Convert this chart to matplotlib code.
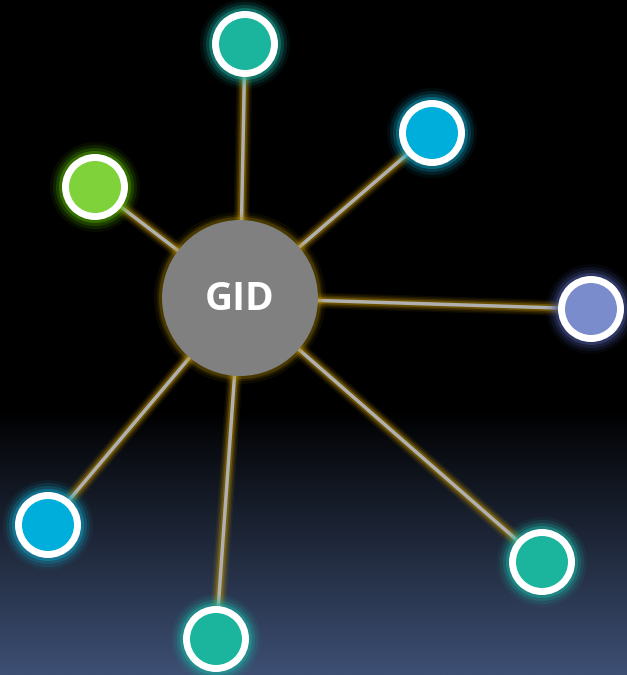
import numpy as np
import matplotlib
matplotlib.use("Agg")
import matplotlib.pyplot as plt
from matplotlib.patches import Circle

# ---- data ----
center_label = "GID"
center_pos = (240, 298)
center_radius = 78
node_x = [245, 432, 95, 591, 48, 542, 216]
node_y = [44, 133, 187, 309, 525, 562, 639]
node_colors = ["#1bb59e", "#00aedc", "#80d23a", "#7a8ccc", "#00aedc", "#1bb59e", "#1bb59e"]
glow_colors = ["#1bb5a6", "#0fa6c8", "#58b400", "#4a5a9e", "#0fa6c8", "#1bb5a6", "#1bb5a6"]
node_radius = 33

W, H = 627, 675
fig = plt.figure(figsize=(W / 100, H / 100), dpi=100)
ax = fig.add_axes([0, 0, 1, 1])
ax.set_xlim(0, W)
ax.set_ylim(H, 0)
ax.axis("off")

# background gradient
ys = np.linspace(0, H, 400)
t = np.clip((ys - 410) / (H - 410), 0, 1)
top = np.array([0, 0, 0])
bot = np.array([0x3d, 0x4f, 0x73]) / 255
cols = top[None, :] * (1 - t[:, None]) + bot[None, :] * t[:, None]
img = np.repeat(cols[:, None, :], 2, axis=1)
ax.imshow(img, extent=[0, W, H, 0], aspect="auto", zorder=0, interpolation="bilinear")

cx, cy = center_pos
# edges with golden glow
for x, y in zip(node_x, node_y):
    for w, a in [(16, 0.08), (13, 0.12), (10, 0.2), (7, 0.35)]:
        ax.plot([cx, x], [cy, y], color="#b88c00", lw=w * 0.72, alpha=a,
                solid_capstyle="round", zorder=1)
    ax.plot([cx, x], [cy, y], color="#b0b0b0", lw=3.5 * 0.72, zorder=2,
            solid_capstyle="butt")

# center glow + circle
for dr, a in [(8, 0.08), (5, 0.15), (3, 0.25)]:
    ax.add_patch(Circle(center_pos, center_radius + dr, color="#b08a00", alpha=a,
                        lw=0, zorder=3))
ax.add_patch(Circle(center_pos, center_radius, color="#808080", lw=0, zorder=4))
ax.text(cx, cy + 1, center_label, color="white", fontsize=28, fontweight="bold",
        family="Open Sans", ha="center", va="center", zorder=5)

# nodes
for x, y, c, g in zip(node_x, node_y, node_colors, glow_colors):
    for dr, a in [(12, 0.07), (9, 0.13), (6, 0.22), (3, 0.4)]:
        ax.add_patch(Circle((x, y), node_radius + dr, color=g, alpha=a, lw=0, zorder=6))
    ax.add_patch(Circle((x, y), node_radius, color="white", lw=0, zorder=7))
    ax.add_patch(Circle((x, y), node_radius - 7, color=c, lw=0, zorder=8))

fig.savefig("out.png", dpi=100, facecolor="black")
